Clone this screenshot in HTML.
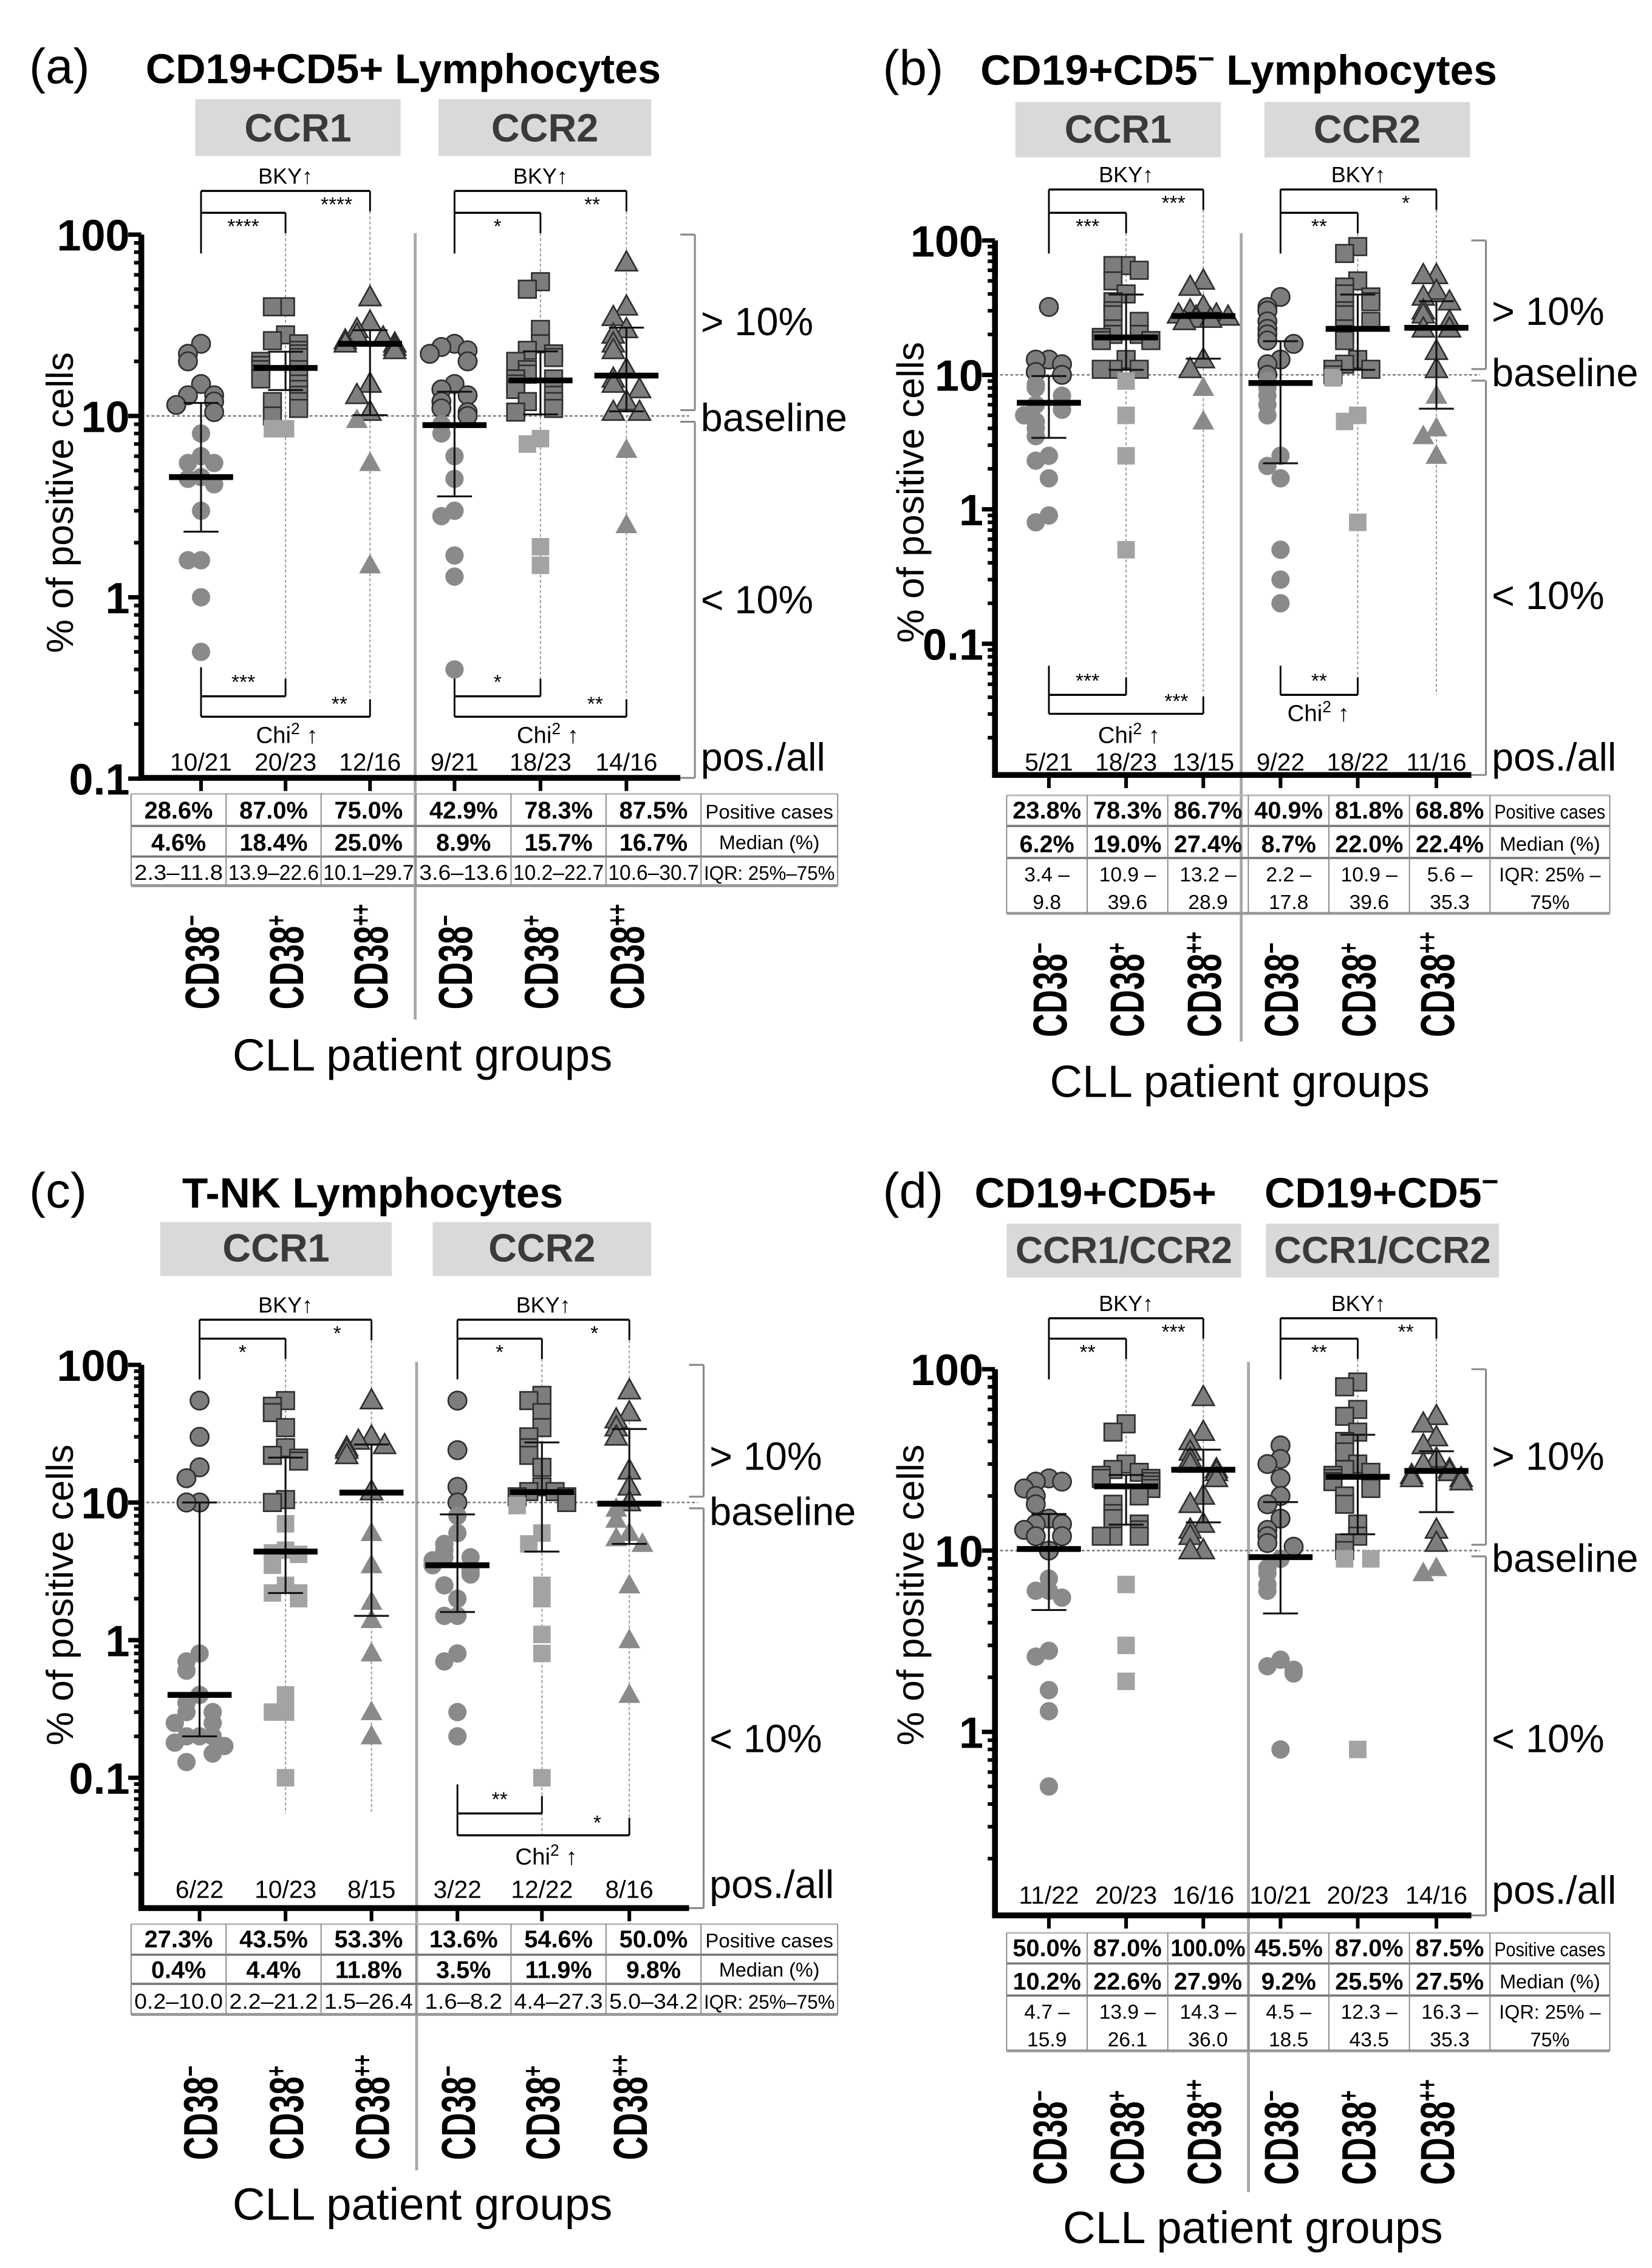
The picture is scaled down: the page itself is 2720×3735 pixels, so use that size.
<!DOCTYPE html>
<html><head><meta charset="utf-8"><style>
html,body{margin:0;padding:0;background:#fff;}
svg{display:block;font-family:"Liberation Sans",sans-serif;}
</style></head><body>
<svg id="fig" xmlns="http://www.w3.org/2000/svg" width="2720" height="3735" viewBox="0 0 1134 1557">
<rect width="1134" height="1557" fill="#fff"/>
</svg>
<script>
// ---------- DATA ----------
const groupLabels = ["−","+","++","−","+","++"];
// Panel (a)
const aVals = [
 [25,22,20,15,13,13,12,11.5,10.5,8,6,5.5,5.5,4.6,4.5,4.2,3,1.6,1.6,1,0.5],
 [40,40,28,26,25,23,22,21,20,19,18,18,17,16,15,14,13,12,12,11,10,8.5,8.5],
 [45,33,30,28,27,26,25,25,24,23,15,13,10.5,9.5,5.5,1.5],
 [25,24,23,22,20,15,14,13,12,11,10.5,10,9,8,6,4.5,3,2.8,1.7,1.3,0.4],
 [55,50,30,25,23,22,21,20,18,17,16,16,15,14,13,12,12,11,10.5,7.5,7,1.9,1.5],
 [70,40,35,30,28,25,23,18,16,15,14,12,10.5,10.5,6.5,2.5]];
const aMed = [4.6,18.4,25.0,8.9,15.7,16.7];
const aQ1 = [2.3,13.9,10.1,3.6,10.2,10.6];
const aQ3 = [11.8,22.6,29.7,13.6,22.7,30.7];
const aPos = ["28.6%","87.0%","75.0%","42.9%","78.3%","87.5%"];
const aCounts = ["10/21","20/23","12/16","9/21","18/23","14/16"];
// Panel (b)
const bVals = [
 [32,13,13,12,10.5,10,8.5,8,7,6,6,5.5,5,4.5,4,3.5,2.5,2.3,1.7,0.9,0.8],
 [65,65,60,50,40,35,30,28,25,22,20,20,19,18,18,13,11,11,11,9,5,2.5,0.5],
 [50,45,32,30,28,28,27,27,26,26,25,13,11,8,4.5],
 [38,32,30,25,22,20,18,17,13,12,10,9,8,7,6,5,2.5,2.1,1.7,0.5,0.3,0.2],
 [90,80,50,45,40,38,35,30,28,25,22,20,18,13,12,11,11,10,9.5,5,4.5,0.8],
 [55,55,42,38,35,30,28,25,22,22,15,11,7,4,3.5,2.5]];
const bMed = [6.2,19.0,27.4,8.7,22.0,22.4];
const bQ1 = [3.4,10.9,13.2,2.2,10.9,5.6];
const bQ3 = [9.8,39.6,28.9,17.8,39.6,35.3];
const bPos = ["23.8%","78.3%","86.7%","40.9%","81.8%","68.8%"];
const bCounts = ["5/21","18/23","13/15","9/22","18/22","11/16"];
// Panel (c)
const cVals = [
 [55,30,18,15,10,10,0.8,0.7,0.6,0.4,0.35,0.3,0.3,0.25,0.25,0.2,0.2,0.2,0.18,0.17,0.15,0.13],
 [55,50,45,35,25,22,21,20,10.5,10,7,4.5,4.3,4.2,3.5,2.5,2.2,2.2,2,0.4,0.3,0.3,0.1],
 [55,30,28,26,25,24,22,12,6,3.5,1.9,1.4,0.8,0.3,0.2],
 [55,24,13,10,8,6,5,4.5,4,4,3.8,3.5,3.2,3,2.5,2,1.5,1.5,0.8,0.7,0.3,0.2],
 [60,55,45,35,30,25,22,18,13,12,12,11,11,10,9.5,6,5,2.5,2,1.1,0.8,0.1],
 [65,45,40,35,30,17,13,10,9,7.5,6,5.5,5,2.5,1,0.4]];
const cMed = [0.4,4.4,11.8,3.5,11.9,9.8];
const cQ1 = [0.2,2.2,1.5,1.6,4.4,5.0];
const cQ3 = [10.0,21.2,26.4,8.2,27.3,34.2];
const cPos = ["27.3%","43.5%","53.3%","13.6%","54.6%","50.0%"];
const cCounts = ["6/22","10/23","8/15","3/22","12/22","8/16"];
// Panel (d)
const dVals = [
 [25,24,24,22,20,18,15,14,14,13,12,12,10,7,6,6,5.5,2.8,2.6,1.7,1.3,0.5],
 [50,45,30,28,27,26,25,25,24,23,22,20,18,16,15,14,13,12,12,12,6.5,3,1.9],
 [70,45,40,35,32,30,28,27,25,20,18,14,13,12,10,10],
 [38,32,30,25,20,18,15,13,12,11,10.5,9,8,7.5,6.5,6,2.5,2.3,2.2,2.1,0.8],
 [85,80,60,55,45,40,35,30,28,27,26,25,24,22,20,18,14,12,11,10,9,9,0.8],
 [55,50,42,38,32,30,28,27,26,25,25,24,13,11,8,7.5]];
const dMed = [10.2,22.6,27.9,9.2,25.5,27.5];
const dQ1 = [4.7,13.9,14.3,4.5,12.3,16.3];
const dQ3 = [15.9,26.1,36.0,18.5,43.5,35.3];
const dPos = ["50.0%","87.0%","100.0%","45.5%","87.0%","87.5%"];
const dCounts = ["11/22","20/23","16/16","10/21","20/23","14/16"];

// ---------- DRAWING ----------
const NS = "http://www.w3.org/2000/svg";
const svg = document.getElementById("fig");
function el(tag, attrs, parent, text){
  const e = document.createElementNS(NS, tag);
  for (const k in attrs) e.setAttribute(k, attrs[k]);
  if (text !== undefined) e.textContent = text;
  (parent || svg).appendChild(e);
  return e;
}
function line(g,x1,y1,x2,y2,st,w,dash){
  const l = el("line",{x1:x1,y1:y1,x2:x2,y2:y2,stroke:st,"stroke-width":w},g);
  if (dash) l.setAttribute("stroke-dasharray",dash);
  return l;
}
function txt(g,x,y,s,size,opt){
  opt = opt||{};
  const t = el("text",{x:x,y:y,"font-size":size,"text-anchor":opt.anchor||"middle",fill:opt.fill||"#000","font-weight":opt.bold?"bold":"normal"},g,s);
  if (opt.len){ t.setAttribute("textLength",opt.len); t.setAttribute("lengthAdjust","spacingAndGlyphs"); }
  return t;
}
function fmt(v){ return v.toFixed(1); }

function panel(P, vals, med, q1, q3, pos, counts){
  const g = el("g",{});
  
  
  const Y = v => P.y100 + (2 - Math.log10(v)) * P.dec;
  const gx = P.gx;
  const L = txt(g,P.letterX,P.titleY,P.letter,34,{anchor:"start"});
  
  
  P.titles.forEach(t=>{
    const T = el("text",{x:t.x,y:P.titleY,"font-size":t.fs||30,"font-weight":"bold","text-anchor":"start"},g,t.s);
    
    
    if (t.sup){ el("tspan",{dy:-11,"font-size":20},T,t.sup); }
    if (t.rest){ el("tspan",{dy:11},T," "+t.rest); }
  });
  P.boxes.forEach(b=>{
    const r = el("rect",{x:b.x1,y:P.boxY1,width:b.x2-b.x1,height:P.boxY2-P.boxY1,fill:"#d9d9d9"},g);
    
    
    txt(g,(b.x1+b.x2)/2,P.boxY2-10,b.s,b.fs||27,{bold:true,fill:"#3a3a3a"});
  });
  const sp = line(g,P.sep,P.sepY1,P.sep,P.sepY2,"#a8a8a8",2);
  
  
  const bl = line(g,P.axX,Y(10),P.rb-4,Y(10),"#777",1,"2,1.5");
  
  
  P.top.forEach(h=>{
    const a = gx[h.g0], b1 = gx[h.g0+1], c = gx[h.g0+2];
    line(g,a,h.yo,c,h.yo,"#000",1.4); line(g,a,h.yi,b1,h.yi,"#000",1.4);
    line(g,a,h.yo,a,h.yi+28,"#000",1.2);
    line(g,b1,h.yi,b1,h.yi+14,"#000",1.2); line(g,c,h.yo,c,h.yo+14,"#000",1.2);
    line(g,b1,h.yi+14,b1,h.low,"#999",0.8,"2,1.5"); line(g,c,h.yo+14,c,h.low,"#999",0.8,"2,1.5");
    const bk = txt(g,(a+c)/2,h.yo-5,"BKY↑",15);
    
    
    txt(g,(a+b1)/2,h.yi+14,h.si,14); txt(g,(b1+c)/2+6,h.yo+14,h.so,14);
  });
  P.bot.forEach(h=>{
    const a = gx[h.g0], b1 = gx[h.g0+1], c = gx[h.g0+2];
    line(g,a,h.yi,b1,h.yi,"#000",1.4); line(g,a,h.yi-20,a,h.yo||h.yi,"#000",1.2);
    line(g,b1,h.yi,b1,h.yi-12,"#000",1.2);
    txt(g,(a+b1)/2,h.yi-5,h.si,14);
    if (h.yo){ line(g,a,h.yo,c,h.yo,"#000",1.4); line(g,c,h.yo,c,h.yo-12,"#000",1.2); txt(g,(b1+c)/2+8,h.yo-4,h.so,14); }
    const ch = txt(g,h.chiX,h.chiY,"Chi",16);
    
    
    el("tspan",{dy:-6,"font-size":11},ch,"2");
    el("tspan",{dy:6},ch," ↑");
  });
  const ax = line(g,P.axX,P.y100,P.axX,P.axBot,"#000",4);
  
  
  if (P.xAxis){
    const xa = line(g,P.axX-2,P.axBot,P.rb-10,P.axBot,"#000",4);
    
    
    gx.forEach(x=>line(g,x,P.axBot,x,P.axBot+9,"#000",2.5));
  }
  P.ticks.forEach(v=>{
    const yy = Y(v);
    line(g,P.axX-9,yy,P.axX,yy,"#000",3);
    const t = txt(g,P.axX-8,yy+11,String(v),30,{anchor:"end",bold:true});
    
    
  });
  [100,10,1,0.1,0.01].forEach(v=>{
    for (let k=2;k<=9;k++){ const my = Y(v*k/10); if (my<=P.axBot && my>=P.y100) line(g,P.axX-5,my,P.axX,my,"#000",2.5); }
  });
  const yt = txt(g,0,0,"% of positive cells",26);
  yt.setAttribute("transform",`translate(${P.yLabX},${P.yLabY}) rotate(-90)`);
  
  
  const rb = P.rb, b10 = Y(10);
  line(g,rb-10,P.y100,rb,P.y100,"#888",1.3); line(g,rb,P.y100,rb,b10-4,"#888",1.3); line(g,rb,b10-4,rb-10,b10-4,"#888",1.3);
  line(g,rb-10,b10+4,rb,b10+4,"#888",1.3); line(g,rb,b10+4,rb,P.axBot,"#888",1.3); line(g,rb,P.axBot,rb-10,P.axBot,"#888",1.3);
  const tx = rb+4;
  [[P.gtY,"> 10%"],[P.blY,"baseline"],[P.ltY,"< 10%"],[P.posY,"pos./all"]].forEach(a=>{
    const t = txt(g,tx,a[0],a[1],27,{anchor:"start"});
    
    
  });
  vals.forEach((arr,gi)=>{
    const shape = gi%3;
    const placed = [];
    const pattern = [0,-9,9,-17,17,-5,5,-13,13,-21,21];
    arr.forEach((v,i)=>{
      const yy = Y(v);
      let n = placed.filter(p=>Math.abs(p-yy)<8).length;
      placed.push(yy);
      const x = gx[gi] + pattern[n % pattern.length];
      const hi = v >= 10;
      const fill = hi ? "#7d7d7d" : (shape===1 ? "#a3a3a3" : "#8a8a8a");
      const stroke = hi ? "#2e2e2e" : "none";
      let m;
      if (shape===0) m = el("circle",{cx:x,cy:yy,r:6.3,fill:fill,stroke:stroke,"stroke-width":1.1},g);
      else if (shape===1) m = el("rect",{x:x-6,y:yy-6,width:12,height:12,fill:fill,stroke:stroke,"stroke-width":1.1},g);
      else m = el("polygon",{points:`${x},${yy-8} ${x+7.5},${yy+5.5} ${x-7.5},${yy+5.5}`,fill:fill,stroke:stroke,"stroke-width":1.1},g);
      
      
    });
  });
  gx.forEach((x,gi)=>{
    const a = Y(q1[gi]), b = Y(q3[gi]);
    line(g,x,a,x,b,"#111",1.3); line(g,x-12,a,x+12,a,"#111",1.3); line(g,x-12,b,x+12,b,"#111",1.3);
    const m = line(g,x-22,Y(med[gi]),x+22,Y(med[gi]),"#000",4);
    
    
    const c = txt(g,x,P.posY,counts[gi],17);
    
    
  });
  const tb = el("g",{},g);
  
  
  const R = P.rows, x0 = P.tx0, cw = P.cw, xe = P.txe;
  line(tb,x0,R[0],xe,R[0],"#bbb",1.2);
  for (let r=1;r<R.length;r++) line(tb,x0,R[r],xe,R[r],r===R.length-1?"#999":"#777",r===R.length-1?2:1.5);
  for (let c=0;c<=7;c++){ const xx = c<7 ? x0+c*cw : xe; line(tb,xx,R[0],xx,R[R.length-1],"#888",0.8); }
  const lx = x0+6*cw + (xe-x0-6*cw)/2;
  for (let c=0;c<6;c++){
    const cx = x0+c*cw+cw/2;
    txt(tb,cx,R[1]-5,pos[c],16.5,{bold:true,len:Math.min(cw-4,pos[c].length*9.4)});
    txt(tb,cx,R[2]-4,fmt(med[c])+"%",16.5,{bold:true});
    if (P.twoLine){
      txt(tb,cx,(R[2]+R[3])/2-3,fmt(q1[c])+" –",14);
      txt(tb,cx,R[3]-3,fmt(q3[c]),14);
    } else {
      const s = fmt(q1[c])+"–"+fmt(q3[c]);
      txt(tb,cx,R[3]-4,s,14.5,{len:Math.min(cw-3,s.length*7.6)});
    }
  }
  txt(tb,lx,R[1]-5,"Positive cases",13.5,{len:xe-x0-6*cw-6});
  txt(tb,lx,R[2]-5,"Median (%)",13.5);
  if (P.twoLine){ txt(tb,lx,(R[2]+R[3])/2-3,"IQR: 25% –",13.5); txt(tb,lx,R[3]-3,"75%",13.5); }
  else txt(tb,lx,R[3]-4,"IQR: 25%–75%",13.5,{len:xe-x0-6*cw-4});
  gx.forEach((x,gi)=>{
    const t = el("text",{"font-size":33,"font-weight":"bold","text-anchor":"start",transform:`translate(${x+12},${P.labBot}) rotate(-90) scale(0.68,1)`},g,"CD38");
    el("tspan",{dy:-12,"font-size":19},t,groupLabels[gi]);
    
    
  });
  const xt = txt(g,P.xtX,P.xtY,"CLL patient groups",31);
  
  
}

const gxL1 = [138,196,254,312,371,430];
const gxR = [720,773,826,879,932,986];
panel({name:"panel-a",letter:"(a)",letterX:20,titleY:57,titles:[{x:100,s:"CD19+CD5+ Lymphocytes",fs:28.5}],
  boxes:[{x1:134,x2:275,s:"CCR1"},{x1:301,x2:447,s:"CCR2"}],boxY1:68,boxY2:107,
  y100:161,dec:124.5,axX:97,axBot:534,xAxis:true,gx:gxL1,sep:285,sepY1:160,sepY2:700,rb:477,ticks:[100,10,1,0.1],
  top:[{g0:0,yo:131,yi:146,low:478,si:"****",so:"****"},{g0:3,yo:131,yi:146,low:478,si:"*",so:"**"}],
  bot:[{g0:0,yi:478,yo:492,si:"***",so:"**",chiX:197,chiY:510},{g0:3,yi:478,yo:492,si:"*",so:"**",chiX:376,chiY:510}],
  yLabX:50,yLabY:345,gtY:230,blY:296,ltY:421,posY:529,
  rows:[545,567,588,608],tx0:90,cw:65.2,txe:575,twoLine:false,labBot:693,xtX:290,xtY:735},
  aVals,aMed,aQ1,aQ3,aPos,aCounts);
panel({name:"panel-b",letter:"(b)",letterX:606,titleY:58,titles:[{x:673,s:"CD19+CD5",sup:"−",rest:"Lymphocytes",fs:29}],
  boxes:[{x1:697,x2:838,s:"CCR1"},{x1:868,x2:1009,s:"CCR2"}],boxY1:70,boxY2:108,
  y100:165,dec:92.3,axX:683,axBot:532,xAxis:true,gx:gxR,sep:852,sepY1:160,sepY2:715,rb:1020,ticks:[100,10,1,0.1],
  top:[{g0:0,yo:130,yi:146,low:477,si:"***",so:"***"},{g0:3,yo:130,yi:146,low:477,si:"**",so:"*"}],
  bot:[{g0:0,yi:477,yo:490,si:"***",so:"***",chiX:775,chiY:510},{g0:3,yi:477,si:"**",chiX:905,chiY:495}],
  yLabX:634,yLabY:338,gtY:223,blY:265,ltY:418,posY:529,
  rows:[546,567,589,627],tx0:691,cw:55.3,txe:1105,twoLine:true,labBot:712,xtX:851,xtY:753},
  bVals,bMed,bQ1,bQ3,bPos,bCounts);
panel({name:"panel-c",letter:"(c)",letterX:20,titleY:829,titles:[{x:125,s:"T-NK Lymphocytes",fs:29}],
  boxes:[{x1:110,x2:269,s:"CCR1"},{x1:297,x2:447,s:"CCR2"}],boxY1:839,boxY2:876,
  y100:937,dec:94.5,axX:97,axBot:1310,xAxis:true,gx:[137,196,255,314,372,432],sep:286,sepY1:935,sepY2:1490,rb:483,ticks:[100,10,1,0.1],
  top:[{g0:0,yo:906,yi:919,low:1245,si:"*",so:"*"},{g0:3,yo:906,yi:919,low:1260,si:"*",so:"*"}],
  bot:[{g0:3,yi:1245,yo:1260,si:"**",so:"*",chiX:375,chiY:1280}],
  yLabX:50,yLabY:1095,gtY:1009,blY:1047,ltY:1203,posY:1303,
  rows:[1321,1342,1362,1383],tx0:90,cw:65.2,txe:575,twoLine:false,labBot:1483,xtX:290,xtY:1524},
  cVals,cMed,cQ1,cQ3,cPos,cCounts);
panel({name:"panel-d",letter:"(d)",letterX:606,titleY:829,titles:[{x:669,s:"CD19+CD5+",fs:29},{x:868,s:"CD19+CD5",sup:"−",fs:29}],
  boxes:[{x1:691,x2:852,s:"CCR1/CCR2",fs:26},{x1:869,x2:1029,s:"CCR1/CCR2",fs:26}],boxY1:840,boxY2:877,
  y100:940,dec:124.5,axX:683,axBot:1315,xAxis:true,gx:gxR,sep:857,sepY1:935,sepY2:1505,rb:1020,ticks:[100,10,1],
  top:[{g0:0,yo:905,yi:919,low:1000,si:"**",so:"***"},{g0:3,yo:905,yi:919,low:1000,si:"**",so:"**"}],
  bot:[],
  yLabX:634,yLabY:1095,gtY:1009,blY:1079,ltY:1203,posY:1307,
  rows:[1327,1348,1370,1408],tx0:691,cw:55.3,txe:1105,twoLine:true,labBot:1500,xtX:860,xtY:1540},
  dVals,dMed,dQ1,dQ3,dPos,dCounts);
</script>
</body></html>
